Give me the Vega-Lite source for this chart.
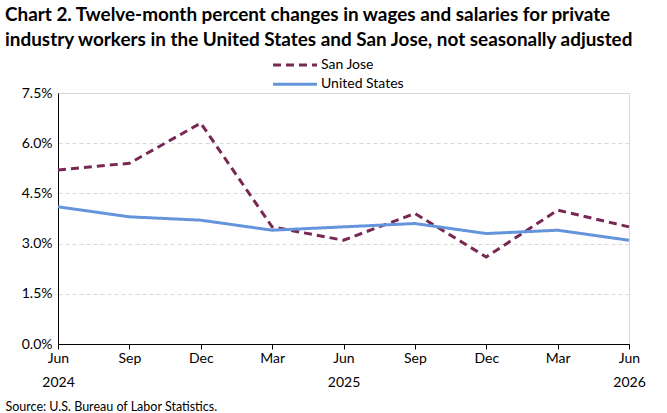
{
  "$schema": "https://vega.github.io/schema/vega-lite/v6.json",
  "width": 571,
  "height": 251,
  "autosize": {"type": "none"},
  "padding": {"left": 58, "top": 93, "right": 38, "bottom": 69},
  "background": "white",
  "title": {
    "text": ["Chart 2. Twelve-month percent changes in wages and salaries for private", "industry workers in the United States and San Jose, not seasonally adjusted"],
    "anchor": "start",
    "frame": "group",
    "dx": -53,
    "font": "Lato",
    "fontSize": 18.9,
    "fontWeight": "bold",
    "color": "#000000",
    "lineHeight": 25,
    "offset": 6
  },
  "data": {
    "values": [
      {"period": "Jun 2024", "series": "San Jose", "value": 0.052},
      {"period": "Sep 2024", "series": "San Jose", "value": 0.054},
      {"period": "Dec 2024", "series": "San Jose", "value": 0.066},
      {"period": "Mar 2025", "series": "San Jose", "value": 0.035},
      {"period": "Jun 2025", "series": "San Jose", "value": 0.031},
      {"period": "Sep 2025", "series": "San Jose", "value": 0.039},
      {"period": "Dec 2025", "series": "San Jose", "value": 0.026},
      {"period": "Mar 2026", "series": "San Jose", "value": 0.040},
      {"period": "Jun 2026", "series": "San Jose", "value": 0.035},
      {"period": "Jun 2024", "series": "United States", "value": 0.041},
      {"period": "Sep 2024", "series": "United States", "value": 0.038},
      {"period": "Dec 2024", "series": "United States", "value": 0.037},
      {"period": "Mar 2025", "series": "United States", "value": 0.034},
      {"period": "Jun 2025", "series": "United States", "value": 0.035},
      {"period": "Sep 2025", "series": "United States", "value": 0.036},
      {"period": "Dec 2025", "series": "United States", "value": 0.033},
      {"period": "Mar 2026", "series": "United States", "value": 0.034},
      {"period": "Jun 2026", "series": "United States", "value": 0.031}
    ]
  },
  "mark": {"type": "line", "strokeWidth": 3},
  "encoding": {
    "x": {
      "field": "period",
      "type": "ordinal",
      "sort": null,
      "scale": {"type": "point", "padding": 0},
      "axis": {
        "title": "Source: U.S. Bureau of Labor Statistics.",
        "titleAnchor": "start",
        "titleAlign": "left",
        "titleBaseline": "alphabetic",
        "titleX": -53,
        "titleY": 66,
        "titleFont": "Lato",
        "titleFontSize": 12.5,
        "titleFontWeight": "normal",
        "titleColor": "#000000",
        "labelAngle": 0,
        "labelExpr": "indexof(datum.value, 'Jun') == 0 ? split(datum.value, ' ') : slice(datum.value, 0, 3)",
        "labelFont": "Lato",
        "labelFontSize": 14,
        "labelColor": "#000000",
        "labelLineHeight": 24,
        "labelPadding": 2,
        "labelBaseline": "top",
        "domainColor": "#000000",
        "tickColor": "#000000",
        "tickSize": 5,
        "grid": false
      }
    },
    "y": {
      "field": "value",
      "type": "quantitative",
      "scale": {"domain": [0, 0.075], "nice": false},
      "axis": {
        "title": null,
        "values": [0, 0.015, 0.03, 0.045, 0.06, 0.075],
        "format": ".1%",
        "labelFont": "Lato",
        "labelFontSize": 14,
        "labelColor": "#000000",
        "labelPadding": 6,
        "ticks": false,
        "domainColor": "#000000",
        "gridColor": "#d9d9d9",
        "gridDash": [4, 3],
        "gridWidth": 1
      }
    },
    "color": {
      "field": "series",
      "type": "nominal",
      "scale": {"domain": ["San Jose", "United States"], "range": ["#772953", "#6495DC"]},
      "legend": {
        "title": null,
        "orient": "none",
        "legendX": 228,
        "legendY": -37,
        "direction": "vertical",
        "symbolType": "M-3,0H3",
        "symbolSize": 215,
        "symbolStrokeWidth": 3,
        "labelFont": "Lato",
        "labelFontSize": 14,
        "labelColor": "#000000",
        "labelOffset": 17,
        "rowPadding": 3.3
      }
    },
    "strokeDash": {
      "field": "series",
      "type": "nominal",
      "scale": {"domain": ["San Jose", "United States"], "range": [[8, 5], [1, 0]]},
      "legend": null
    }
  },
  "config": {
    "view": {"stroke": "#d9d9d9"}
  }
}
